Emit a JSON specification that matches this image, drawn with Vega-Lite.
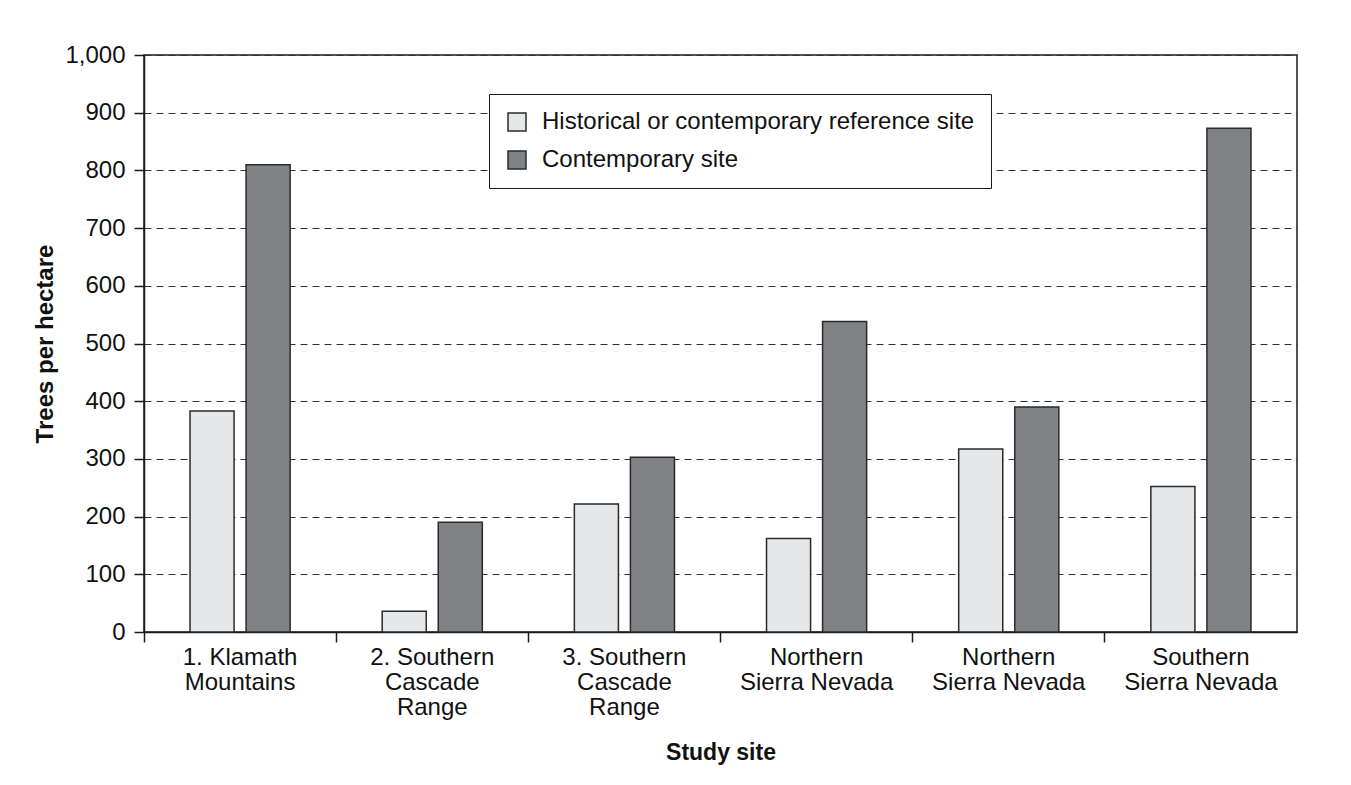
{
  "$schema": "https://vega.github.io/schema/vega-lite/v6.json",
  "autosize": {"type": "none"},
  "padding": {"left": 144, "top": 55, "right": 54, "bottom": 153},
  "width": 1153,
  "height": 577,
  "background": "white",
  "config": {
    "font": "Liberation Sans",
    "view": {"stroke": "#1a1a1a", "strokeWidth": 1.5},
    "axis": {
      "labelFont": "Liberation Sans",
      "titleFont": "Liberation Sans",
      "labelColor": "#111",
      "titleColor": "#111"
    }
  },
  "data": {
    "values": [
      {"site": "1. Klamath|Mountains", "type": "Historical or contemporary reference site", "trees": 383},
      {"site": "1. Klamath|Mountains", "type": "Contemporary site", "trees": 810},
      {"site": "2. Southern|Cascade|Range", "type": "Historical or contemporary reference site", "trees": 36},
      {"site": "2. Southern|Cascade|Range", "type": "Contemporary site", "trees": 190},
      {"site": "3. Southern|Cascade|Range", "type": "Historical or contemporary reference site", "trees": 222},
      {"site": "3. Southern|Cascade|Range", "type": "Contemporary site", "trees": 303},
      {"site": "Northern|Sierra Nevada", "type": "Historical or contemporary reference site", "trees": 162},
      {"site": "Northern|Sierra Nevada", "type": "Contemporary site", "trees": 538},
      {"site": "Northern|Sierra Nevada|", "type": "Historical or contemporary reference site", "trees": 317},
      {"site": "Northern|Sierra Nevada|", "type": "Contemporary site", "trees": 390},
      {"site": "Southern|Sierra Nevada", "type": "Historical or contemporary reference site", "trees": 252},
      {"site": "Southern|Sierra Nevada", "type": "Contemporary site", "trees": 873}
    ]
  },
  "mark": {"type": "bar", "stroke": "#2a2a2a", "strokeWidth": 1.5},
  "encoding": {
    "x": {
      "field": "site",
      "type": "nominal",
      "sort": null,
      "scale": {"paddingInner": 0, "paddingOuter": 0},
      "axis": {
        "title": "Study site",
        "titleFontSize": 23,
        "titleFontWeight": "bold",
        "titlePadding": 22,
        "labelAngle": 0,
        "labelFontSize": 24,
        "labelLineHeight": 25,
        "labelPadding": 3,
        "labelExpr": "split(datum.label, '|')",
        "bandPosition": 0,
        "ticks": true,
        "tickSize": 10,
        "tickColor": "#1a1a1a",
        "tickWidth": 1.5,
        "domainColor": "#1a1a1a",
        "domainWidth": 1.5,
        "grid": false
      }
    },
    "xOffset": {
      "field": "type",
      "type": "nominal",
      "sort": ["Historical or contemporary reference site", "Contemporary site"],
      "scale": {"paddingInner": 0.214, "paddingOuter": 0.821}
    },
    "y": {
      "field": "trees",
      "type": "quantitative",
      "scale": {"domain": [0, 1000], "nice": false},
      "axis": {
        "title": "Trees per hectare",
        "titleFontSize": 24,
        "titleFontWeight": "bold",
        "titlePadding": 7,
        "values": [0, 100, 200, 300, 400, 500, 600, 700, 800, 900, 1000],
        "format": ",.0f",
        "labelFontSize": 24,
        "labelPadding": 9,
        "tickSize": 10,
        "tickColor": "#1a1a1a",
        "tickWidth": 1.5,
        "domainColor": "#1a1a1a",
        "domainWidth": 1.5,
        "grid": true,
        "gridColor": "#333",
        "gridWidth": 1,
        "gridDash": [7, 5]
      }
    },
    "fill": {
      "field": "type",
      "type": "nominal",
      "sort": ["Historical or contemporary reference site", "Contemporary site"],
      "scale": {
        "domain": ["Historical or contemporary reference site", "Contemporary site"],
        "range": ["#e6e7e8", "#808285"]
      },
      "legend": {
        "title": null,
        "orient": "none",
        "legendX": 345,
        "legendY": 39,
        "direction": "vertical",
        "fillColor": "white",
        "strokeColor": "#1a1a1a",
        "padding": 16,
        "rowPadding": 14,
        "symbolType": "square",
        "symbolSize": 324,
        "symbolStrokeColor": "#2a2a2a",
        "symbolStrokeWidth": 1.5,
        "labelFontSize": 24,
        "labelFont": "Liberation Sans",
        "labelColor": "#111",
        "labelOffset": 13,
        "labelLimit": 600
      }
    }
  }
}
